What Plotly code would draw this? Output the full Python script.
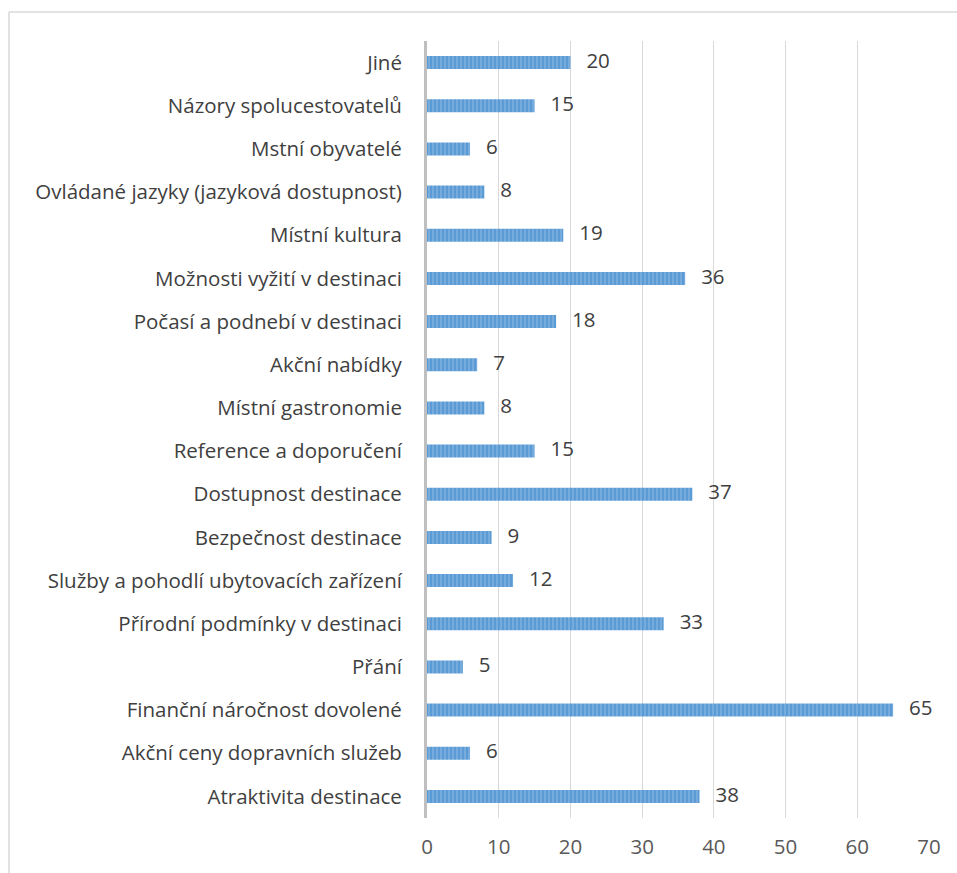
import plotly.graph_objects as go

categories = [
    "Atraktivita destinace",
    "Akční ceny dopravních služeb",
    "Finanční náročnost dovolené",
    "Přání",
    "Přírodní podmínky v destinaci",
    "Služby a pohodlí ubytovacích zařízení",
    "Bezpečnost destinace",
    "Dostupnost destinace",
    "Reference a doporučení",
    "Místní gastronomie",
    "Akční nabídky",
    "Počasí a podnebí v destinaci",
    "Možnosti vyžití v destinaci",
    "Místní kultura",
    "Ovládané jazyky (jazyková dostupnost)",
    "Mstní obyvatelé",
    "Názory spolucestovatelů",
    "Jiné",
]
values = [38, 6, 65, 5, 33, 12, 9, 37, 15, 8, 7, 18, 36, 19, 8, 6, 15, 20]
x_ticks = [0, 10, 20, 30, 40, 50, 60, 70]

FONT = "'Open Sans', sans-serif"
FS = 20.5

fig = go.Figure()
fig.add_trace(
    go.Bar(
        y=categories,
        x=values,
        orientation="h",
        marker=dict(
            color="#5B9BD5",
            line=dict(width=0),
            pattern=dict(shape="|", fgcolor="#A9CBEA", bgcolor="#5B9BD5",
                         size=4, solidity=0.35),
        ),
        width=0.3,
        hoverinfo="x+y",
    )
)
fig.add_trace(
    go.Scatter(
        y=categories,
        x=values,
        mode="text",
        text=["   " + str(v) for v in values],
        textposition="middle right",
        textfont=dict(size=FS, color="#404040", family=FONT),
        cliponaxis=False,
        hoverinfo="skip",
    )
)

fig.update_layout(
    width=957,
    height=873,
    margin=dict(l=427, r=28, t=41, b=55),
    paper_bgcolor="white",
    plot_bgcolor="white",
    showlegend=False,
    font=dict(family=FONT, size=FS, color="#404040"),
    xaxis=dict(
        range=[0, 70],
        tickvals=x_ticks,
        showgrid=True,
        gridcolor="#D9D9D9",
        gridwidth=1,
        zeroline=False,
        showline=False,
        ticks="",
        tickfont=dict(size=FS, color="#595959", family=FONT),
        ticklabelstandoff=14,
    ),
    yaxis=dict(
        categoryorder="array",
        categoryarray=categories,
        range=[-0.5, len(categories) - 0.5],
        showgrid=False,
        zeroline=False,
        showline=True,
        linecolor="#BFBFBF",
        linewidth=3,
        ticks="",
        tickfont=dict(size=FS, color="#404040", family=FONT),
        ticklabelstandoff=18,
    ),
    shapes=[
        dict(type="line", xref="paper", yref="paper",
             x0=(9 - 427) / 502, x1=1.2, y0=(818 - 12) / 777, y1=(818 - 12) / 777,
             line=dict(color="#D9D9D9", width=1.5)),
        dict(type="line", xref="paper", yref="paper",
             x0=(9 - 427) / 502, x1=(9 - 427) / 502, y0=(818 - 12) / 777, y1=-0.2,
             line=dict(color="#D9D9D9", width=1.5)),
    ],
)

fig.write_html("out.html")
